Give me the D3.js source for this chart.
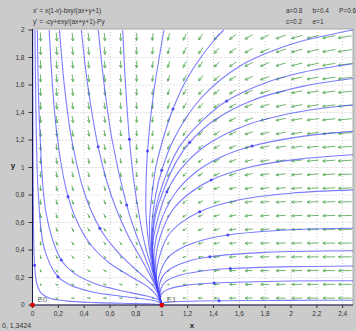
<!DOCTYPE html>
<html>
<head>
<meta charset="utf-8">
<script src="https://cdn.jsdelivr.net/npm/d3@7"></script>
<style>
  body { margin: 0; background: #cbcbcb; }
  svg { display: block; font-family: "Liberation Sans", Arial, sans-serif; }
</style>
</head>
<body>
<div id="chart"></div>
<script>
// model parameters, as printed in the header
const a = 0.8, b = 0.4, c = 0.2, e = 1, P = 0.6;
const equations = ["x' = x(1-x)-bxy/(ax+y+1)", "y' = -cy+exy/(ax+y+1)-Py"];
const paramRow1 = ["a=0.8", "b=0.4", "P=0.6"];
const paramRow2 = ["c=0.2", "e=1"];
const cursorText = "0, 1,3424";

// axes
const xTicks = [0, 0.2, 0.4, 0.6, 0.8, 1, 1.2, 1.4, 1.6, 1.8, 2, 2.2, 2.4];
const yTicks = [0, 0.2, 0.4, 0.6, 0.8, 1, 1.2, 1.4, 1.6, 1.8, 2];

// equilibria
const equilibria = [{name: "E0", x: 0, y: 0}, {name: "E1", x: 1, y: 0}];

// starting points (blue dots)
const seeds = [
  [0.016, 0.29], [0.197, 0.206], [0.223, 0.327], [0.275, 0.788], [0.521, 0.558],
  [0.729, 0.727], [0.508, 1.151], [0.75, 1.205], [0.89, 1.12], [1.0, 0.98],
  [1.04, 0.824], [1.087, 1.425], [1.217, 1.183], [1.502, 1.484], [1.383, 0.909],
  [1.294, 0.679], [1.512, 0.509], [1.372, 0.351], [1.53, 0.265], [1.406, 0.16],
  [1.443, 0.031], [1.70, 1.156]
];

// trajectories (x, y)
const curves = [
  [[0.002,2.0],[0.0037,1.16],[0.0075,0.58],[0.016,0.29],[0.032,0.16],[0.064,0.09],[0.128,0.051],[0.256,0.03],[0.5,0.017],[0.75,0.011],[0.9,0.008],[0.97,0.006],[1,0]],
  [[0.019,2],[0.0285,1.3],[0.044,0.824],[0.091,0.412],[0.197,0.206],[0.3,0.142],[0.45,0.0985],[0.6,0.074],[0.75,0.056],[0.85,0.045],[0.92,0.036],[0.96,0.028],[0.985,0.017],[1,0]],
  [[0.0375,2],[0.055,1.308],[0.108,0.654],[0.223,0.327],[0.33,0.226],[0.48,0.157],[0.63,0.117],[0.76,0.09],[0.86,0.07],[0.92,0.057],[0.96,0.045],[0.985,0.028],[1,0]],
  [[0.129,2],[0.154,1.6],[0.182,1.3],[0.226,1.0],[0.275,0.788],[0.325,0.65],[0.405,0.5],[0.485,0.4],[0.603,0.3],[0.774,0.2],[0.864,0.15],[0.909,0.12],[0.94,0.09],[0.975,0.05],[1,0]],
  [[0.209,2],[0.246,1.6],[0.304,1.2],[0.407,0.8],[0.521,0.558],[0.601,0.45],[0.695,0.35],[0.773,0.28],[0.844,0.22],[0.902,0.17],[0.948,0.12],[0.975,0.07],[1,0]],
  [[0.378,2],[0.427,1.6],[0.508,1.151],[0.575,0.9],[0.647,0.7],[0.742,0.5],[0.832,0.35],[0.891,0.25],[0.946,0.15],[0.97,0.1],[0.985,0.05],[1,0]],
  [[0.509,2],[0.555,1.6],[0.616,1.2],[0.729,0.727],[0.788,0.55],[0.849,0.4],[0.911,0.25],[0.95,0.15],[0.972,0.1],[0.986,0.05],[1,0]],
  [[0.698,2],[0.72,1.6],[0.75,1.205],[0.784,0.9],[0.835,0.6],[0.88,0.4],[0.912,0.3],[0.942,0.2],[0.971,0.1],[0.986,0.05],[1,0]],
  [[1.017,2],[0.931,1.5],[0.89,1.12],[0.877,0.8],[0.879,0.65],[0.893,0.5],[0.905,0.4],[0.922,0.3],[0.945,0.2],[0.971,0.1],[1,0]],
  [[1.48,2.0],[1.4,1.92],[1.2,1.653],[1.087,1.425],[1.008,1.2],[0.954,1.0],[0.924,0.8],[0.905,0.6],[0.914,0.4],[0.93,0.3],[0.946,0.2],[0.972,0.1],[1,0]],
  [[2.48,2.0],[2.3,1.966],[2.0,1.896],[1.6,1.735],[1.3,1.5],[1.1,1.218],[1.0,0.98],[0.953,0.8],[0.925,0.6],[0.921,0.4],[0.932,0.3],[0.948,0.2],[0.973,0.1],[1,0]],
  [[2.48,1.754],[2.1,1.694],[1.8,1.615],[1.502,1.484],[1.324,1.35],[1.137,1.15],[1.036,0.95],[0.953,0.7],[0.924,0.45],[0.933,0.3],[0.949,0.2],[0.973,0.1],[1,0]],
  [[2.48,1.647],[2.1,1.592],[1.7,1.488],[1.4,1.34],[1.217,1.183],[1.117,1.05],[1.02,0.85],[0.951,0.65],[0.929,0.45],[0.935,0.3],[0.95,0.2],[0.974,0.1],[1,0]],
  [[2.48,1.455],[2.1,1.411],[1.7,1.323],[1.35,1.165],[1.15,0.992],[1.04,0.824],[0.976,0.65],[0.931,0.45],[0.937,0.3],[0.951,0.2],[0.974,0.1],[1,0]],
  [[2.48,1.263],[2.1,1.228],[1.7,1.156],[1.45,1.072],[1.25,0.956],[1.1,0.807],[0.99,0.6],[0.941,0.4],[0.943,0.3],[0.953,0.2],[0.975,0.1],[1,0]],
  [[2.48,1.093],[2.1,1.065],[1.7,1.007],[1.383,0.909],[1.2,0.802],[1.08,0.685],[0.989,0.5],[0.954,0.35],[0.955,0.25],[0.963,0.15],[0.978,0.08],[1,0]],
  [[2.48,0.837],[2.0,0.813],[1.6,0.765],[1.294,0.679],[1.15,0.599],[1.05,0.505],[0.982,0.35],[0.958,0.2],[0.977,0.1],[1,0]],
  [[2.48,0.558],[2.0,0.547],[1.512,0.509],[1.3,0.467],[1.15,0.413],[1.05,0.347],[0.993,0.25],[0.969,0.15],[0.979,0.08],[1,0]],
  [[2.48,0.395],[1.8,0.383],[1.372,0.351],[1.2,0.317],[1.08,0.271],[1.02,0.227],[0.982,0.15],[0.984,0.08],[1,0]],
  [[2.48,0.284],[2.0,0.279],[1.53,0.265],[1.3,0.246],[1.12,0.211],[1.03,0.17],[0.994,0.12],[0.987,0.06],[1,0]],
  [[2.48,0.176],[2.0,0.175],[1.406,0.16],[1.2,0.1445],[1.06,0.118],[1.01,0.0935],[0.99,0.06],[1,0]],
  [[2.48,0.035],[2.0,0.034],[1.443,0.031],[1.2,0.027],[1.05,0.02],[1.0,0.013],[0.997,0.007],[1,0]]
];

// size
const W = 356, H = 331;
const xScale = d3.scaleLinear().domain([0, 2.48]).range([32.5, 353]);
const yScale = d3.scaleLinear().domain([0, 2]).range([305, 30]);
const fmt = v => String(+v.toFixed(1)).replace(".", ",");

const svg = d3.select("#chart").append("svg")
    .attr("width", W)
    .attr("height", H);

svg.append("rect").attr("width", W).attr("height", H).attr("fill", "#cbcbcb");

// plot area
svg.append("rect")
    .attr("x", xScale(0)).attr("y", 29)
    .attr("width", xScale(2.48) - xScale(0)).attr("height", yScale(0) - 29)
    .attr("fill", "#fff")
    .attr("stroke", "#a8a8a8");

// grid
svg.append("g").selectAll("line").data(xTicks.slice(1))
  .join("line")
    .attr("x1", d => xScale(d)).attr("x2", d => xScale(d))
    .attr("y1", 29).attr("y2", yScale(0))
    .attr("stroke", "#c8c8c8").attr("stroke-dasharray", "1,2");
svg.append("g").selectAll("line").data(yTicks.slice(1, -1))
  .join("line")
    .attr("x1", xScale(0)).attr("x2", xScale(2.48))
    .attr("y1", d => yScale(d)).attr("y2", d => yScale(d))
    .attr("stroke", "#c8c8c8").attr("stroke-dasharray", "1,2");

// direction field from the printed equations, on a 20 x 20 grid
const fx = (x, y) => x * (1 - x) - b * x * y / (a * x + y + 1);
const fy = (x, y) => -c * y + e * x * y / (a * x + y + 1) - P * y;
const nCols = 20, nRows = 20;
const kx = xScale(1) - xScale(0), ky = yScale(1) - yScale(0);
const cells = [];
for (let i = 0; i < nCols; i++) {
  for (let j = 0; j < nRows; j++) {
    cells.push([(i + 0.5) * 2.48 / nCols, (j + 0.5) * 2 / nRows]);
  }
}
const arrowPath = ([gx, gy]) => {
  const vx = fx(gx, gy), vy = fy(gx, gy);
  const mag = Math.hypot(vx, vy);
  if (mag < 1e-9) return "";
  const len = Math.min(14, 7 * Math.sqrt(mag));
  let ux = vx * kx, uy = vy * ky;
  const n = Math.hypot(ux, uy);
  ux /= n; uy /= n;
  const cx = xScale(gx), cy = yScale(gy);
  const sx = cx - ux * len / 2, sy = cy - uy * len / 2;
  const ex = cx + ux * len / 2, ey = cy + uy * len / 2;
  const h = Math.min(3.2, len * 0.45), ang = 0.45;
  const hx1 = ex - h * (ux * Math.cos(ang) - uy * Math.sin(ang));
  const hy1 = ey - h * (uy * Math.cos(ang) + ux * Math.sin(ang));
  const hx2 = ex - h * (ux * Math.cos(-ang) - uy * Math.sin(-ang));
  const hy2 = ey - h * (uy * Math.cos(-ang) + ux * Math.sin(-ang));
  return `M${sx},${sy}L${ex},${ey}M${hx1},${hy1}L${ex},${ey}L${hx2},${hy2}`;
};
svg.append("g").selectAll("path").data(cells)
  .join("path")
    .attr("d", arrowPath)
    .attr("fill", "none")
    .attr("stroke", "#5fae5f")
    .attr("stroke-width", 0.9);

// trajectories
const line = d3.line()
    .x(d => xScale(d[0]))
    .y(d => yScale(d[1]))
    .curve(d3.curveCatmullRom.alpha(0.5));
svg.append("g").selectAll("path").data(curves)
  .join("path")
    .attr("d", line)
    .attr("fill", "none")
    .attr("stroke", "#4444ff")
    .attr("stroke-opacity", 0.7)
    .attr("stroke-width", 1.1);

svg.append("g").selectAll("circle").data(seeds)
  .join("circle")
    .attr("cx", d => xScale(d[0]))
    .attr("cy", d => yScale(d[1]))
    .attr("r", 1.5)
    .attr("fill", "#4a4af0");

// axes
svg.append("line")
    .attr("x1", xScale(0)).attr("x2", xScale(0))
    .attr("y1", 29).attr("y2", yScale(0))
    .attr("stroke", "#1a1a4a");
svg.append("line")
    .attr("x1", xScale(0)).attr("x2", xScale(2.48))
    .attr("y1", yScale(0)).attr("y2", yScale(0))
    .attr("stroke", "#1a1a4a");

const xt = svg.append("g").selectAll("g").data(xTicks).join("g")
    .attr("transform", d => `translate(${xScale(d)},${yScale(0)})`);
xt.append("line").attr("y2", 3).attr("stroke", "#333");
xt.append("text").attr("y", 11).attr("text-anchor", "middle")
    .attr("font-size", 6.5).attr("fill", "#333").text(fmt);

const yt = svg.append("g").selectAll("g").data(yTicks).join("g")
    .attr("transform", d => `translate(${xScale(0)},${yScale(d)})`);
yt.append("line").attr("x1", -4).attr("stroke", "#333");
yt.append("text").attr("x", -8).attr("dy", "0.35em").attr("text-anchor", "end")
    .attr("font-size", 6.5).attr("fill", "#333").text(fmt);

svg.append("text").attr("x", 192).attr("y", 328).attr("text-anchor", "middle")
    .attr("font-size", 8).attr("font-weight", "bold").attr("fill", "#222").text("x");
svg.append("text").attr("x", 13).attr("y", 168).attr("text-anchor", "middle")
    .attr("font-size", 8).attr("font-weight", "bold").attr("fill", "#222").text("y");

// equilibria
svg.append("g").selectAll("rect").data(equilibria)
  .join("rect")
    .attr("x", d => xScale(d.x) - 2).attr("y", d => yScale(d.y) - 2)
    .attr("width", 4).attr("height", 4)
    .attr("fill", "#e00000");
svg.append("g").selectAll("text").data(equilibria)
  .join("text")
    .attr("x", d => xScale(d.x) + 5).attr("y", d => yScale(d.y) - 3)
    .attr("font-size", 8).attr("fill", "#666")
    .text(d => d.name);

// header
svg.append("g").selectAll("text").data(equations)
  .join("text")
    .attr("x", 33).attr("y", (d, i) => 13 + i * 11)
    .attr("font-size", 6.5).attr("fill", "#333")
    .text(d => d);
svg.append("g").selectAll("text").data(paramRow1)
  .join("text")
    .attr("x", (d, i) => 286 + i * 26.5).attr("y", 13)
    .attr("font-size", 6.5).attr("fill", "#333")
    .text(d => d);
svg.append("g").selectAll("text").data(paramRow2)
  .join("text")
    .attr("x", (d, i) => 286 + i * 26.5).attr("y", 24)
    .attr("font-size", 6.5).attr("fill", "#333")
    .text(d => d);

svg.append("text").attr("x", 2).attr("y", 328)
    .attr("font-size", 7).attr("fill", "#333").text(cursorText);
</script>
</body>
</html>
